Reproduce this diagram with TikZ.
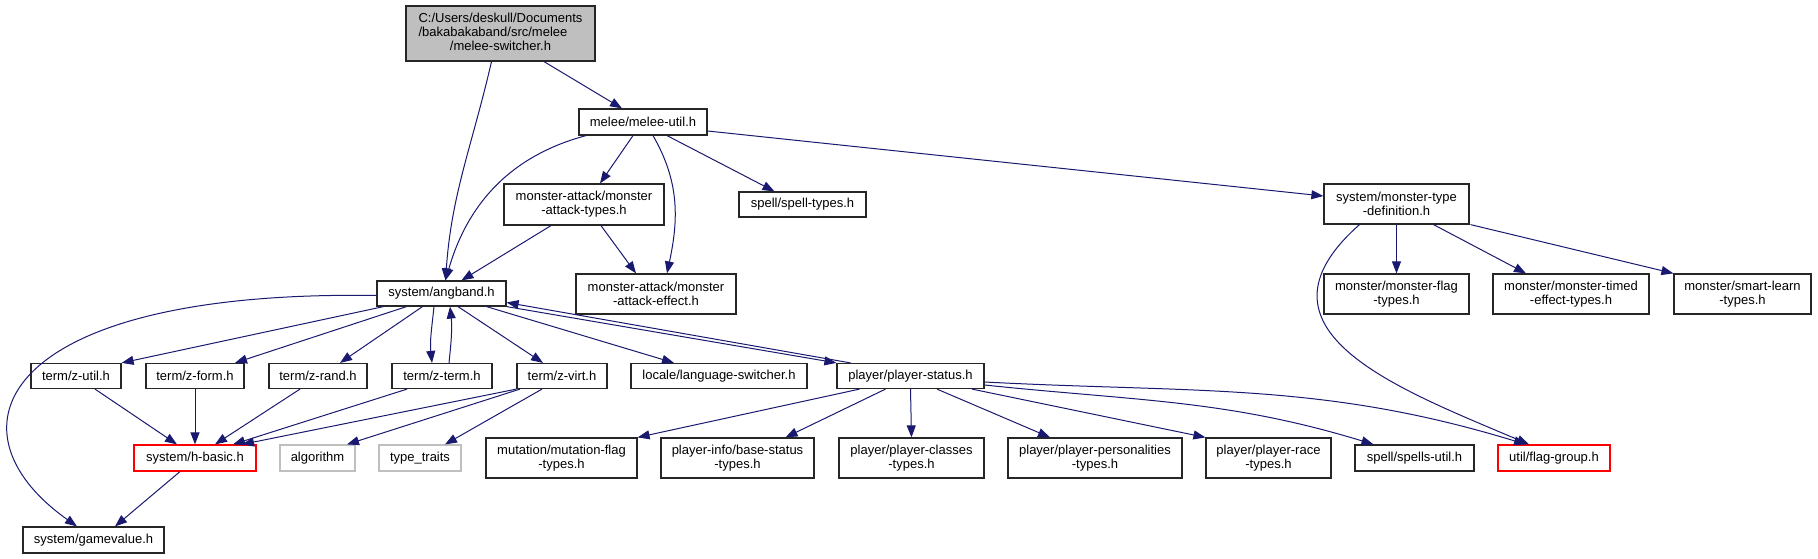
\documentclass[tikz,border=0pt]{standalone}
\usepackage{fontspec}
\setmainfont{Liberation Sans}
\usetikzlibrary{arrows.meta}
\definecolor{depblue}{HTML}{191970}
\definecolor{extgray}{HTML}{BFBFBF}

\begin{document}
\begin{tikzpicture}[x=1pt,y=1pt,>={Triangle[length=12pt,width=9pt]},font=\fontsize{13}{14}\selectfont,
  box/.style={draw=black!85,line width=1.2pt,fill=white,inner sep=0pt,align=center},
  redbox/.style={box,draw=red},
  extbox/.style={box,draw=extgray},
  dep/.style={->,draw=depblue,line width=1pt}]
\useasboundingbox (0,0) rectangle (1818,-559);
\node[box,fill=extgray,minimum width=189,minimum height=55] (sw) at (500.5,-33.5) {\begin{tabular}{@{}l@{}}C:/Users/deskull/Documents\\/bakabakaband/src/melee\\\multicolumn{1}{@{}c@{}}{/melee-switcher.h}\end{tabular}};
\node[box,minimum width=128,minimum height=26] (mu) at (643,-122) {melee/melee-util.h};
\node[box,minimum width=160,minimum height=41] (mat) at (584,-204.5) {monster-attack/monster\\-attack-types.h};
\node[box,minimum width=127,minimum height=25] (st) at (802.5,-204.5) {spell/spell-types.h};
\node[box,minimum width=145,minimum height=40] (mtd) at (1396.5,-204) {system/monster-type\\-definition.h};
\node[box,minimum width=129,minimum height=25] (ang) at (441.5,-293.5) {system/angband.h};
\node[box,minimum width=160,minimum height=40] (mae) at (656,-294) {monster-attack/monster\\-attack-effect.h};
\node[box,minimum width=145,minimum height=40] (mft) at (1396.5,-294) {monster/monster-flag\\-types.h};
\node[box,minimum width=156,minimum height=40] (mte) at (1571,-294) {monster/monster-timed\\-effect-types.h};
\node[box,minimum width=137,minimum height=40] (msl) at (1742.5,-294) {monster/smart-learn\\-types.h};
\node[box,minimum width=90,minimum height=25] (zu) at (76,-376) {term/z-util.h};
\node[box,minimum width=98,minimum height=25] (zf) at (195,-376) {term/z-form.h};
\node[box,minimum width=98,minimum height=25] (zr) at (318,-376) {term/z-rand.h};
\node[box,minimum width=100,minimum height=25] (zt) at (442,-376) {term/z-term.h};
\node[box,minimum width=90,minimum height=25] (zv) at (562,-376) {term/z-virt.h};
\node[box,minimum width=176,minimum height=25] (ls) at (719,-376) {locale/language-switcher.h};
\node[box,minimum width=147,minimum height=25] (ps) at (910.5,-376) {player/player-status.h};
\node[redbox,minimum width=122,minimum height=26] (hb) at (195,-458) {system/h-basic.h};
\node[extbox,minimum width=75,minimum height=26] (alg) at (317.5,-458) {algorithm};
\node[extbox,minimum width=82,minimum height=26] (tt) at (420,-458) {type\_traits};
\node[box,minimum width=151,minimum height=40] (mf) at (561.5,-458) {mutation/mutation-flag\\-types.h};
\node[box,minimum width=153,minimum height=40] (bs) at (737.5,-458) {player-info/base-status\\-types.h};
\node[box,minimum width=145,minimum height=40] (pc) at (911.5,-458) {player/player-classes\\-types.h};
\node[box,minimum width=174,minimum height=40] (pp) at (1095,-458) {player/player-personalities\\-types.h};
\node[box,minimum width=125,minimum height=40] (pr) at (1268.5,-458) {player/player-race\\-types.h};
\node[box,minimum width=119,minimum height=26] (su) at (1414.5,-458) {spell/spells-util.h};
\node[redbox,minimum width=112,minimum height=26] (fg) at (1554,-458) {util/flag-group.h};
\node[box,minimum width=141,minimum height=26] (gv) at (93.5,-540) {system/gamevalue.h};
% top part
\draw[dep] ([xshift=-9]sw.south) to[out=-103,in=86] ([xshift=4]ang.north);
\draw[dep] ([xshift=43.5]sw.south) -- ([xshift=-21]mu.north);
\draw[dep] ([xshift=-57]mu.south) to[out=-165,in=74] ([xshift=4]ang.north);
\draw[dep] ([xshift=-10]mu.south) -- ([xshift=16]mat.north);
\draw[dep] ([xshift=10]mu.south) to[out=-60,in=78] ([xshift=11]mae.north);
\draw[dep] ([xshift=24]mu.south) -- ([xshift=-28]st.north);
\draw[dep] ([yshift=-9]mu.east) -- ([yshift=8]mtd.west);
\draw[dep] ([xshift=-33]mat.south) -- ([xshift=20]ang.north);
\draw[dep] ([xshift=17]mat.south) -- ([xshift=-20]mae.north);
\draw[dep] (mtd.south) -- (mft.north);
\draw[dep] ([xshift=37]mtd.south) -- ([xshift=-45]mte.north);
\draw[dep] ([xshift=74]mtd.south) -- (msl.north west);
\draw[dep] ([xshift=-37]mtd.south) .. controls +(-120,-106) and +(-129,55) .. ([xshift=-25]fg.north);
% angband
\draw[dep] ([yshift=-2]ang.west) .. controls +(-377,6) and +(-137,97) .. ([xshift=-16.5]gv.north);
\draw[dep] ([xshift=-58]ang.south) -- (zu.north east);
\draw[dep] ([xshift=-35]ang.south) -- ([xshift=40]zf.north);
\draw[dep] ([xshift=-19]ang.south) -- ([xshift=22]zr.north);
\draw[dep] ([xshift=-7.5]ang.south) to[out=-96,in=96] ([xshift=-10]zt.north);
\draw[dep] ([xshift=7]zt.north) to[out=84,in=-84] ([xshift=8.5]ang.south);
\draw[dep] ([xshift=16.5]ang.south) -- ([xshift=-19]zv.north);
\draw[dep] ([xshift=45]ang.south) -- ([xshift=-45]ls.north);
\draw[dep] (ang.south east) -- (ps.north west);
\draw[dep] ([xshift=-60]ps.north) -- ([yshift=-9]ang.east);
% terms
\draw[dep] ([xshift=19]zu.south) -- ([xshift=-18]hb.north);
\draw[dep] (zf.south) -- (hb.north);
\draw[dep] ([xshift=-18]zr.south) -- ([xshift=20]hb.north);
\draw[dep] ([xshift=-35]zt.south) -- ([xshift=38]hb.north);
\draw[dep] (zv.south west) -- ([xshift=47]hb.north);
\draw[dep] ([xshift=-42]zv.south) -- ([xshift=29.5]alg.north);
\draw[dep] ([xshift=-20]zv.south) -- ([xshift=25]tt.north);
\draw[dep] ([xshift=-15]hb.south) -- ([xshift=21.5]gv.north);
% player status
\draw[dep] ([xshift=-51]ps.south) -- (mf.north east);
\draw[dep] ([xshift=-25]ps.south) -- ([xshift=48]bs.north);
\draw[dep] (ps.south) -- (pc.north);
\draw[dep] ([xshift=26.5]ps.south) -- ([xshift=-45]pp.north);
\draw[dep] ([xshift=61.5]ps.south) -- (pr.north west);
\draw[dep] ([yshift=-9]ps.east) to[out=-6,in=163] ([xshift=-41]su.north);
\draw[dep] ([yshift=-6]ps.east) to[out=-3,in=163] ([xshift=-28]fg.north);
\end{tikzpicture}
\end{document}
